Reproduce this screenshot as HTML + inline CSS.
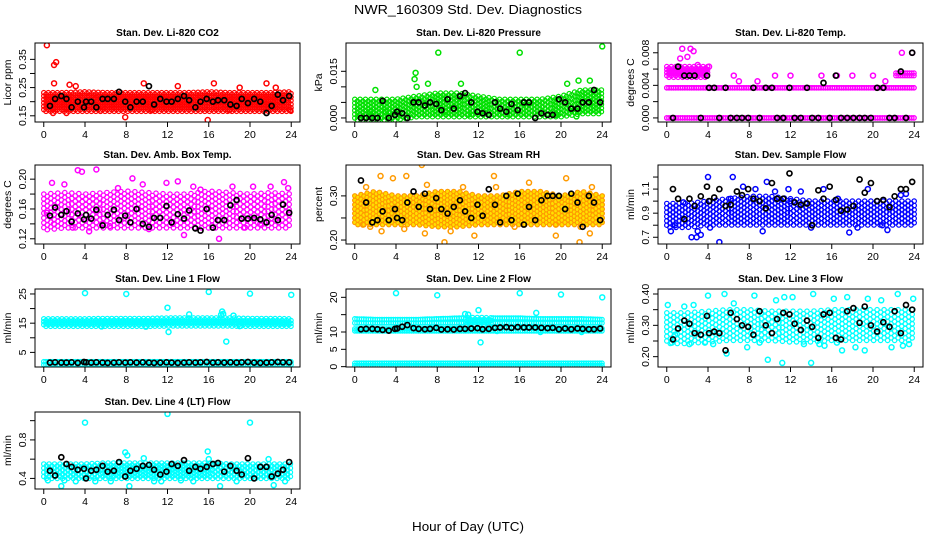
<!DOCTYPE html>
<html>
<head>
<meta charset="utf-8">
<style>
html,body{margin:0;padding:0;background:#fff;}
svg{display:block;font-family:"Liberation Sans",sans-serif;}
</style>
</head>
<body>
<svg id="chart" width="936" height="540" viewBox="0 0 936 540" xmlns="http://www.w3.org/2000/svg">
<text x="468" y="14" text-anchor="middle" font-size="13" textLength="228" lengthAdjust="spacingAndGlyphs">NWR_160309  Std. Dev. Diagnostics</text>
<text x="468" y="531" text-anchor="middle" font-size="13" textLength="112" lengthAdjust="spacingAndGlyphs">Hour of Day (UTC)</text>
</svg>
<script>
// ---- shared data ----
const blackHours = [0.6,1.1,1.7,2.2,2.7,3.3,3.9,4.1,4.6,5.1,5.7,6.2,6.8,7.3,7.9,8.4,9.0,9.6,10.2,10.7,11.3,11.9,12.4,13.0,13.6,14.1,14.7,15.2,15.8,16.4,16.9,17.5,18.1,18.7,19.2,19.8,20.4,21.0,21.6,22.1,22.7,23.2,23.8];
const bandHours = [0,2,4,6,8,10,12,14,16,18,20,22,24];
const xTicks = [0,4,8,12,16,20,24];

const titles = ["Stan. Dev. Li-820 CO2","Stan. Dev. Li-820 Pressure","Stan. Dev. Li-820 Temp.","Stan. Dev. Amb. Box Temp.","Stan. Dev. Gas Stream RH","Stan. Dev. Sample Flow","Stan. Dev. Line 1 Flow","Stan. Dev. Line 2 Flow","Stan. Dev. Line 3 Flow","Stan. Dev. Line 4 (LT) Flow"];
const units = ["Licor ppm","kPa","degrees C","degrees C","percent","ml/min","ml/min","ml/min","ml/min","ml/min"];

const yTicks1=[0.15,0.20,0.25,0.30,0.35], yLab1=["0.15","","0.25","","0.35"];
const yTicks2=[0,0.005,0.010,0.015], yLab2=["0.000","","","0.015"];
const yTicks3=[0,0.002,0.004,0.006,0.008], yLab3=["0.000","","0.004","","0.008"];
const yTicks4=[0.12,0.14,0.16,0.18,0.20], yLab4=["0.12","","0.16","","0.20"];
const yTicks5=[0.20,0.25,0.30], yLab5=["0.20","","0.30"];
const yTicks6=[0.7,0.8,0.9,1.0,1.1,1.2], yLab6=["0.7","","0.9","","1.1",""];
const yTicks7=[5,10,15,20,25], yLab7=["5","","15","","25"];
const yTicks8=[0,5,10,15,20], yLab8=["0","5","10","","20"];
const yTicks9=[0.20,0.25,0.30,0.35,0.40], yLab9=["0.20","","0.30","","0.40"];
const yTicks10=[0.4,0.6,0.8,1.0], yLab10=["0.4","","0.8",""];

const black1=[.185,.21,.22,.21,.18,.20,.18,.20,.20,.18,.21,.21,.21,.235,.20,.18,.20,.20,.255,.19,.21,.20,.20,.21,.22,.205,.18,.20,.21,.20,.205,.205,.19,.185,.21,.195,.21,.20,.16,.185,.225,.205,.22];
const black2=[0,0,0,0,.0055,0,.001,.002,.0015,0,.005,.005,.004,.005,.0045,.0025,.006,.003,.007,.008,.005,.002,.0015,.001,.005,.003,.002,.0045,.0025,.005,.005,0,.0015,.001,.001,.006,.005,.003,.003,.005,.005,.009,.005];
const black3=[0,.0063,.0052,.0052,.0052,0,.0052,.0037,.0037,0,.0037,0,0,0,0,.0037,0,.0037,.0037,0,0,.0037,0,0,.0037,0,0,.0043,0,.0052,0,0,0,0,0,0,.0037,.0037,0,0,.0057,0,.008];
const black4=[.151,.162,.152,.157,.143,.154,.146,.152,.147,.159,.138,.152,.159,.145,.151,.142,.160,.140,.136,.148,.148,.164,.142,.153,.147,.158,.134,.131,.160,.135,.145,.145,.165,.172,.147,.147,.148,.146,.142,.152,.145,.166,.155];
const black5=[.335,.285,.240,.245,.265,.245,.270,.250,.245,.285,.310,.275,.305,.270,.295,.270,.260,.275,.290,.265,.250,.280,.255,.315,.280,.240,.300,.245,.305,.235,.275,.245,.290,.300,.300,.300,.270,.305,.285,.230,.300,.285,.245];
const black6=[1.10,1.02,.85,1.02,.96,1.04,1.12,1.00,1.03,1.10,.96,.97,1.08,1.05,1.10,1.02,1.00,.94,1.15,1.02,1.02,1.23,.99,.97,.98,.80,1.09,1.02,1.12,1.01,.92,.93,.96,1.18,1.07,1.15,1.00,1.01,.95,1.04,1.10,1.10,1.16];
const black7=[1.5,1.6,1.5,1.5,1.6,1.4,1.7,1.6,1.5,1.6,1.5,1.4,1.5,1.6,1.5,1.6,1.5,1.6,1.5,1.4,1.5,1.6,1.5,1.4,1.5,1.6,1.5,1.6,1.7,1.5,1.6,1.5,1.6,1.5,1.6,1.7,1.5,1.4,1.5,1.6,1.7,1.6,1.6];
const black8=[10.8,10.9,10.9,10.8,10.6,10.4,10.9,11.0,11.5,12.0,11.1,10.9,10.8,10.9,11.2,10.7,10.8,10.7,10.9,10.9,11.0,11.1,10.8,10.9,11.2,11.3,11.4,11.2,11.4,11.3,11.3,11.3,11.2,11.1,11.2,10.8,11.0,10.8,11.0,10.9,10.8,10.8,11.0];
const black9=[.255,.290,.315,.305,.275,.270,.330,.275,.280,.275,.220,.340,.320,.300,.295,.270,.345,.300,.275,.320,.340,.335,.305,.285,.315,.295,.260,.335,.340,.260,.255,.345,.355,.308,.360,.300,.280,.310,.295,.345,.275,.365,.350];
const black10=[.48,.43,.62,.55,.52,.49,.50,.40,.48,.49,.53,.47,.48,.57,.42,.48,.50,.53,.54,.49,.44,.47,.55,.53,.59,.48,.52,.50,.52,.55,.56,.47,.53,.48,.44,.61,.40,.52,.52,.42,.45,.49,.57];

const lo1=[.172,.172,.172,.172,.172,.172,.172,.172,.172,.172,.172,.172,.172], hi1=[.232,.232,.235,.232,.232,.232,.232,.232,.235,.232,.232,.232,.235];
const lo2=[0,0,0,.001,.001,.001,.001,.001,.001,.001,.001,.002,.002], hi2=[.006,.006,.006,.007,.008,.008,.007,.006,.006,.006,.007,.009,.009];
const lo3a=[0,0,0,0,0,0,0,0,0,0,0,0,0], hi3a=[0,0,0,0,0,0,0,0,0,0,0,0,0];
const lo3b=[.0037,.0037,.0037,.0037,.0037,.0037,.0037,.0037,.0037,.0037,.0037,.0037,.0037], hi3b=lo3b;
const lo3c=[.0052,.0052,.0052,NaN,NaN,NaN,NaN,NaN,NaN,NaN,NaN,.0052,.0052], hi3c=[.0063,.0063,.0063,NaN,NaN,NaN,NaN,NaN,NaN,NaN,NaN,.0055,.0055];
const lo4=[.135,.138,.138,.138,.138,.138,.138,.138,.138,.138,.138,.138,.138], hi4=[.180,.182,.180,.182,.184,.182,.180,.180,.184,.182,.180,.182,.180];
const lo5=[.24,.24,.24,.24,.235,.235,.24,.24,.24,.24,.24,.24,.24], hi5=[.30,.31,.30,.30,.31,.31,.30,.30,.31,.31,.30,.31,.30];
const lo6=[.80,.80,.82,.82,.82,.82,.82,.82,.82,.82,.82,.82,.82], hi6=[.98,.98,1.0,1.02,1.04,1.04,1.02,1.0,1.0,1.0,1.0,1.0,1.0];
const lo7a=[14.5,14.5,14.5,14.5,14.5,14.5,14.6,14.6,14.6,14.6,14.5,14.5,14.5], hi7a=[16.5,16.5,16.5,16.6,16.6,16.6,16.8,16.8,16.8,16.8,16.6,16.6,16.5];
const lo7b=[.8,.8,.8,.8,.8,.8,.8,.8,.8,.8,.8,.8,.8], hi7b=[1.8,1.8,1.8,1.8,1.8,1.8,1.8,1.8,1.8,1.8,1.8,1.8,1.8];
const lo8a=[12.6,12.6,12.6,12.6,12.6,12.6,12.6,12.6,12.6,12.6,12.6,12.6,12.6], hi8a=[13.8,13.6,13.6,13.6,13.8,14.0,14.2,14.0,14.0,13.8,13.8,13.8,13.6];
const lo8b=[10.3,10.3,10.3,10.3,10.3,10.3,10.3,10.3,10.3,10.3,10.3,10.3,10.3], hi8b=[10.9,10.9,10.9,10.9,11.0,11.0,11.0,11.2,11.2,11.0,11.0,11.0,11.0];
const lo8c=[.3,.3,.3,.3,.3,.3,.3,.3,.3,.3,.3,.3,.3], hi8c=[1.0,1.0,1.0,1.0,1.0,1.0,1.0,1.0,1.0,1.0,1.0,1.0,1.0];
const lo9=[.25,.25,.255,.26,.26,.26,.255,.255,.26,.26,.26,.26,.26], hi9=[.34,.34,.345,.35,.35,.345,.345,.345,.35,.35,.35,.35,.35];
const lo10=[.42,.42,.42,.42,.42,.42,.42,.42,.42,.42,.42,.42,.42], hi10=[.55,.55,.55,.56,.56,.56,.56,.56,.56,.55,.55,.55,.55];

const oh1=[0.3,1.0,1.2,0.9,2.2,1.0,2.5,3.1,7.9,9.7,13.0,15.9,16.5,21.6,23.9,18.0,5.5,10.5,22.5,19.0], ov1=[.40,.33,.34,.16,.16,.265,.26,.255,.145,.265,.255,.135,.265,.265,.17,.17,.168,.17,.25,.25];
const oh2=[8.1,16.0,24.0,5.9,5.8,7.1,6.0,2.0,10.3,20.6,21.7,22.8,8.8,0.5,1.5,3.0,11.0,15.0,19.5,21.5], ov2=[.021,.021,.023,.0145,.0125,.011,.010,.009,.011,.011,.012,.012,.002,.001,.002,.002,.001,.001,.001,.0005];
const oh3=[1.5,2.3,2.6,2.0,1.3,3.0,3.8,4.1,7.0,8.8,10.5,15.0,16.5,20.0,21.2,22.8,23.8,6.5,12.0,18.0], ov3=[.0085,.0085,.0082,.0075,.0073,.0065,.006,.0063,.0045,.0045,.0052,.0052,.0052,.0052,.0045,.008,.008,.0052,.0052,.0052];
const oh4=[3.3,3.7,5.1,2.0,8.6,9.6,11.9,13.0,13.6,15.2,17.0,0.8,1.0,2.8,4.4,6.4,10.2,14.5,18.3,21.0,22.0,23.3,23.7,19.5,7.2,12.5,16.4,20.3,0.3,5.7], ov4=[.212,.21,.213,.193,.201,.193,.195,.197,.125,.186,.120,.195,.14,.135,.13,.137,.133,.19,.19,.14,.19,.196,.188,.135,.188,.14,.135,.19,.155,.14];
const oh5=[6.5,8.7,13.5,1.1,2.5,3.7,5.0,7.0,10.5,16.9,19.5,20.5,21.8,23.0,0.8,2.6,6.8,9.3,11.6,15.5,19.5,21.9,22.8,1.5,4.8,13.7], ov5=[.37,.195,.345,.32,.345,.34,.345,.325,.32,.33,.21,.34,.195,.32,.235,.22,.215,.22,.21,.23,.235,.23,.215,.23,.225,.32];
const oh6=[4.0,6.4,9.7,11.8,12.0,2.4,2.9,3.3,5.1,0.4,4.2,9.3,17.7,21.4,0.8,3.0,14.0,18.5,1.6,20.9,23.2,6.2,8.6,13.0,16.6,19.5,22.7,10.5,15.2,7.4], ov6=[1.2,1.2,1.16,1.1,1.0,.7,.7,.72,.66,.75,.78,.75,.74,.76,.8,.75,.78,.78,.99,.8,1.06,1.02,1.1,1.08,1.02,1.1,1.05,1.08,1.1,1.12];
const oh7=[4.0,8.0,16.0,20.0,24.0,12.0,12.1,14.1,17.3,17.4,17.7,18.4,17.2,9.9,5.6,19.0], ov7=[25.3,25.0,25.7,25.1,24.7,20.3,12.0,18.0,19.0,18.2,8.7,17.6,17.9,13.8,13.9,14.0];
const oh8=[4.0,8.0,16.0,20.0,24.0,12.0,12.2,11.0,17.6,18.0,22.0,13.8,10.7], ov8=[21.2,20.6,21.2,20.8,20.0,16.3,7.0,15.0,15.5,10.0,10.0,10.3,15.2];
const oh9=[0.1,0.5,2.2,4.0,5.6,5.8,8.5,9.8,11.2,11.4,14.0,14.2,14.8,16.2,17.5,19.5,22.4,22.9,23.9,0.8,3.7,6.5,7.8,12.2,16.5,18.3,20.8,21.8,1.7,9.0,13.3,15.3,2.6,17.0,19.2,23.5,4.5,10.6], ov9=[.365,.245,.24,.395,.40,.21,.395,.19,.18,.39,.18,.40,.24,.385,.39,.385,.40,.235,.385,.27,.245,.37,.23,.39,.245,.23,.38,.23,.36,.245,.24,.235,.365,.22,.22,.24,.24,.38];
const oh10=[4.0,12.0,20.0,15.9,7.9,8.1,16.0,1.7,0.4,3.1,5.0,6.5,9.7,10.7,13.3,14.5,17.1,18.7,22.3,23.4,8.3,2.0,21.8,11.4], ov10=[.98,1.07,.98,.68,.67,.64,.60,.32,.38,.37,.37,.37,.61,.37,.38,.37,.32,.37,.33,.37,.32,.38,.60,.37];

const colL=[35,346,658], colR=[300,611,923];
const rowT=[43,165,289,412], rowB=[122,244,367,489];
const NS="http://www.w3.org/2000/svg";
const svg=document.getElementById('chart');
function mk(tag,attrs,parent){const e=document.createElementNS(NS,tag);for(const k in attrs)e.setAttribute(k,attrs[k]);(parent||svg).appendChild(e);return e;}

const panels=[
 {ylim:[0.128,0.408],yt:yTicks1,yl:yLab1,col:"#ff0000",fill:"none",dx:0.22,dy:3.4,bands:[[lo1,hi1]],oh:oh1,ov:ov1,black:black1},
 {ylim:[-0.0013,0.0241],yt:yTicks2,yl:yLab2,col:"#00e000",fill:"none",dx:0.26,dy:3.8,bands:[[lo2,hi2]],oh:oh2,ov:ov2,black:black2},
 {ylim:[-0.0005,0.0092],yt:yTicks3,yl:yLab3,col:"#ff00ff",fill:"none",dx:0.22,dy:3.4,bands:[[lo3a,hi3a],[lo3b,hi3b],[lo3c,hi3c]],oh:oh3,ov:ov3,black:black3},
 {ylim:[0.113,0.219],yt:yTicks4,yl:yLab4,col:"#ff00ff",fill:"none",dx:0.34,dy:5,bands:[[lo4,hi4]],oh:oh4,ov:ov4,black:black4},
 {ylim:[0.191,0.370],yt:yTicks5,yl:yLab5,col:"#ff9a00",fill:"#ffe000",dx:0.3,dy:4.4,bands:[[lo5,hi5]],oh:oh5,ov:ov5,black:black5},
 {ylim:[0.644,1.30],yt:yTicks6,yl:yLab6,col:"#0000ff",fill:"none",dx:0.3,dy:4.4,bands:[[lo6,hi6]],oh:oh6,ov:ov6,black:black6},
 {ylim:[0,26.7],yt:yTicks7,yl:yLab7,col:"#00ffff",fill:"none",dx:0.22,dy:3.4,bands:[[lo7a,hi7a],[lo7b,hi7b]],oh:oh7,ov:ov7,black:black7},
 {ylim:[-0.1,22.4],yt:yTicks8,yl:yLab8,col:"#00ffff",fill:"none",dx:0.22,dy:3.4,bands:[[lo8a,hi8a],[lo8b,hi8b],[lo8c,hi8c]],oh:oh8,ov:ov8,black:black8},
 {ylim:[0.167,0.416],yt:yTicks9,yl:yLab9,col:"#00ffff",fill:"none",dx:0.34,dy:5,bands:[[lo9,hi9]],oh:oh9,ov:ov9,black:black9},
 {ylim:[0.29,1.09],yt:yTicks10,yl:yLab10,col:"#00ffff",fill:"none",dx:0.26,dy:3.8,bands:[[lo10,hi10]],oh:oh10,ov:ov10,black:black10}
];

function interp(arr,h){const i=Math.min(Math.floor(h/2),bandHours.length-2);const t=(h-bandHours[i])/2;return arr[i]+(arr[i+1]-arr[i])*t;}

panels.forEach((p,idx)=>{
  const c=idx%3, r=Math.floor(idx/3);
  const L=colL[c],R=colR[c],T=rowT[r],B=rowB[r];
  const g=mk('g',{});
  
  
  const xs=h=>L+(h+0.85)/(25.7)*(R-L);
  const ys=v=>B-(v-p.ylim[0])/(p.ylim[1]-p.ylim[0])*(B-T);
  const cp=mk('clipPath',{id:'clip'+idx},g);mk('rect',{x:L,y:T,width:R-L,height:B-T},cp);
  const pts=mk('g',{'clip-path':'url(#clip'+idx+')'},g);
  
  
  p.bands.forEach(b=>{
    let k=0;
    for(let h=0;h<=24.001;h+=p.dx,k++){
      const lo=interp(b[0],h),hi=interp(b[1],h);
      if(isNaN(lo)||isNaN(hi))continue;
      const y0=ys(lo),y1=ys(hi);
      const n=Math.max(1,Math.round((y0-y1)/p.dy));
      for(let j=0;j<=n;j++){
        let y=y0+(y1-y0)*j/n + ((k%2)&&n>1?p.dy/2:0);
        if(y<y1)y=y1;
        const ci=mk('circle',{cx:xs(h).toFixed(1),cy:y.toFixed(1),r:2.2,fill:p.fill,stroke:p.col,'stroke-width':1.2},pts);
        
        
      }
    }
  });
  p.oh.forEach((h,i)=>{
    const ci=mk('circle',{cx:xs(h),cy:ys(p.ov[i]),r:2.5,fill:'none',stroke:p.col,'stroke-width':1.5},pts);
    
    
  });
  blackHours.forEach((h,i)=>{
    if(i>=p.black.length)return;
    const ci=mk('circle',{cx:xs(h),cy:ys(p.black[i]),r:2.5,fill:'none',stroke:'#000','stroke-width':1.7},pts);
    
    
  });
  const bx=mk('rect',{x:L,y:T,width:R-L,height:B-T,fill:'none',stroke:'#000','stroke-width':1},g);
  
  
  const tt=mk('text',{x:(L+R)/2,y:T-7,'text-anchor':'middle','font-size':10,'font-weight':'bold'},g);
  tt.textContent=titles[idx];
  
  
  const xa=mk('g',{},g);
  
  
  mk('line',{x1:xs(0),x2:xs(24),y1:B,y2:B,stroke:'#000'},xa);
  xTicks.forEach(t=>{
    mk('line',{x1:xs(t),x2:xs(t),y1:B,y2:B+5,stroke:'#000'},xa);
    const tx=mk('text',{x:xs(t),y:B+16,'text-anchor':'middle','font-size':10.5},xa);
    tx.textContent=t;
    
    
  });
  const ya=mk('g',{},g);
  
  
  mk('line',{x1:L,x2:L,y1:ys(p.yt[0]),y2:ys(p.yt[p.yt.length-1]),stroke:'#000'},ya);
  p.yt.forEach((t,i)=>{
    const y=ys(t);
    mk('line',{x1:L-5,x2:L,y1:y,y2:y,stroke:'#000'},ya);
    if(p.yl[i]){
      const tx=mk('text',{x:L-9,y:y,'text-anchor':'middle','font-size':10.5,transform:'rotate(-90 '+(L-9)+' '+y+')'},ya);
      tx.textContent=p.yl[i];
      
      
    }
  });
  const yt=mk('text',{x:L-24,y:(T+B)/2,'text-anchor':'middle','font-size':10.5,transform:'rotate(-90 '+(L-24)+' '+((T+B)/2)+')'},ya);
  yt.textContent=units[idx];
  
  
});
</script>
</body>
</html>
